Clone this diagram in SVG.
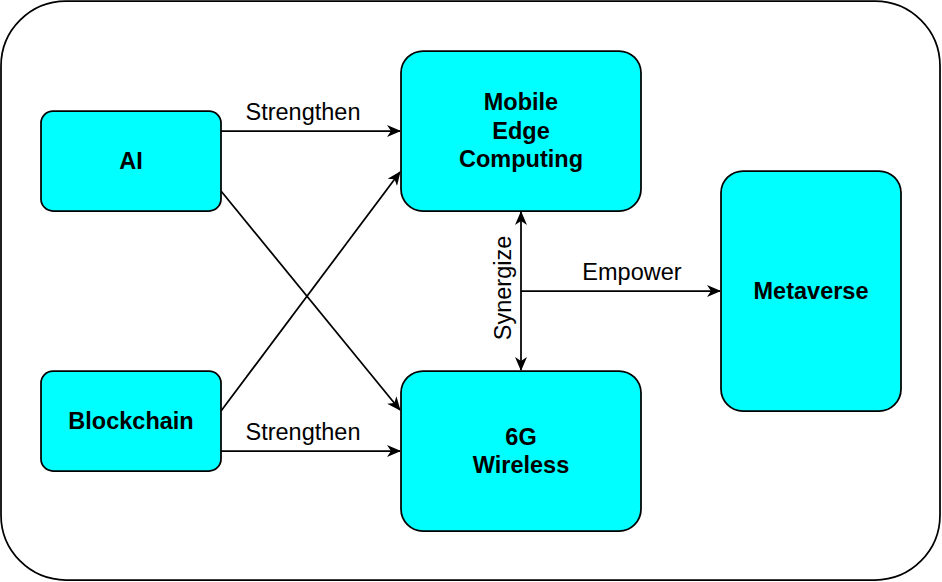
<svg xmlns="http://www.w3.org/2000/svg" width="942" height="582" viewBox="0 0 942 582">
<defs>
<style>
.node{fill:#00FFFF;stroke:#000;stroke-width:1.75}
.nt{font-family:"Liberation Sans",Arial,sans-serif;font-weight:bold;font-size:23.5px;text-anchor:middle;fill:#000}
.lt{font-family:"Liberation Sans",Arial,sans-serif;font-size:23.5px;text-anchor:middle;fill:#000}
.edge{fill:none;stroke:#000;stroke-width:1.75}
</style>
<marker id="arr" viewBox="0 0 14 12" refX="13" refY="6" markerWidth="14" markerHeight="12" markerUnits="userSpaceOnUse" orient="auto-start-reverse">
<path d="M0,0 L14,6 L0,12 L4,6 Z" fill="#000"/>
</marker>
</defs>
<rect x="1" y="1" width="939" height="579" rx="65" ry="65" fill="#fff" stroke="#000" stroke-width="1.75"/>
<g id="connectors">
<line class="edge" x1="221" y1="131" x2="400" y2="131" marker-end="url(#arr)"/>
<line class="edge" x1="221" y1="191" x2="400" y2="410" marker-end="url(#arr)"/>
<line class="edge" x1="221" y1="411" x2="400" y2="172" marker-end="url(#arr)"/>
<line class="edge" x1="221" y1="451" x2="400" y2="451" marker-end="url(#arr)"/>
<line class="edge" x1="521" y1="212" x2="521" y2="370" marker-start="url(#arr)" marker-end="url(#arr)"/>
<line class="edge" x1="521" y1="291" x2="720" y2="291" marker-end="url(#arr)"/>
<text class="lt" x="303" y="120">Strengthen</text>
<text class="lt" x="303" y="440">Strengthen</text>
<text class="lt" x="632" y="280">Empower</text>
<text class="lt" transform="translate(511,288) rotate(-90)">Synergize</text>
</g>
<g id="ai">
<rect class="node" x="41" y="111" width="180" height="100" rx="12"/>
<text class="nt" x="131" y="169">AI</text>
</g>
<g id="blockchain">
<rect class="node" x="41" y="371" width="180" height="100" rx="12"/>
<text class="nt" x="131" y="429">Blockchain</text>
</g>
<g id="mec">
<rect class="node" x="401" y="51" width="240" height="160" rx="22"/>
<text class="nt" x="521" y="110">Mobile</text>
<text class="nt" x="521" y="139">Edge</text>
<text class="nt" x="521" y="167">Computing</text>
</g>
<g id="wireless">
<rect class="node" x="401" y="371" width="240" height="160" rx="22"/>
<text class="nt" x="521" y="445">6G</text>
<text class="nt" x="521" y="473">Wireless</text>
</g>
<g id="metaverse">
<rect class="node" x="721" y="171" width="180" height="240" rx="22"/>
<text class="nt" x="811" y="299">Metaverse</text>
</g>
</svg>
